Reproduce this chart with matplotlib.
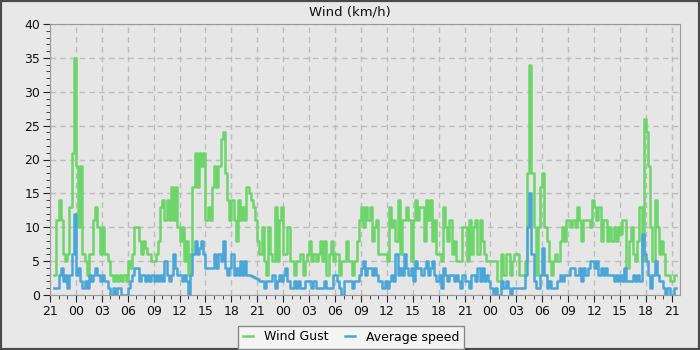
import numpy as np
import pandas as pd
import matplotlib
matplotlib.use('Agg')
import matplotlib.pyplot as plt
import matplotlib.dates as mdates
from matplotlib.patches import Rectangle

# 15 minute readings, one row = 3 hours, first row starts 21:00
gust = [
    np.nan, np.nan, 3, 11, 14, 11, 6, 5, 6, 13, 21, 35,
    19, 10, 19, 6, 5, 3, 6, 6, 11, 13, 10, 6,
    10, 6, 6, 5, 3, 2, 3, 2, 3, 2, 3, 2,
    5, 4, 6, 10, 10, 8, 6, 8, 7, 6, 6, 5,
    5, 6, 8, 13, 14, 11, 14, 11, 16, 11, 16, 10,
    8, 10, 5, 8, 3, 6, 16, 21, 16, 21, 19, 21,
    11, 13, 11, 16, 19, 16, 19, 23, 24, 18, 14, 11,
    14, 11, 8, 14, 11, 13, 11, 16, 15, 14, 13, 11,
    8, 6, 10, 5, 3, 10, 6, 5, 13, 5, 11, 13,
    6, 6, 10, 5, 5, 3, 5, 5, 6, 3, 5, 6,
    8, 5, 6, 5, 6, 8, 5, 8, 3, 6, 8, 5,
    6, 6, 3, 5, 5, 8, 5, 5, 3, 5, 8, 11,
    13, 10, 13, 11, 13, 8, 10, 11, 6, 6, 6, 6,
    5, 13, 10, 11, 8, 14, 6, 11, 11, 13, 11, 5,
    11, 14, 11, 13, 13, 8, 14, 11, 14, 8, 11, 6,
    6, 5, 13, 10, 8, 11, 6, 8, 5, 5, 5, 10,
    10, 5, 11, 6, 10, 11, 6, 11, 8, 6, 5, 5,
    5, 5, 5, 2, 2, 6, 3, 6, 6, 3, 5, 6,
    6, 3, 3, 3, 5, 18, 34, 18, 10, 3, 10, 16,
    18, 10, 8, 5, 3, 5, 6, 5, 8, 10, 8, 11,
    11, 10, 11, 10, 13, 11, 8, 11, 11, 11, 10, 14,
    13, 11, 13, 8, 11, 11, 8, 10, 8, 10, 8, 10,
    9, 11, 11, 4, 8, 10, 6, 5, 8, 13, 5, 26,
    24, 19, 10, 5, 14, 10, 6, 8, 6, 3, 3, 2,
    2, 3, 3,
]
avg = [
    np.nan, np.nan, 1, 1, 3, 4, 2, 3, 1, 3, 6, 12,
    3, 4, 2, 1, 2, 1, 3, 2, 3, 4, 3, 2,
    3, 2, 2, 1, 0, 1, 0, 1, 1, 0, 0, 0,
    1, 2, 3, 4, 4, 2, 3, 3, 2, 3, 2, 3,
    2, 3, 2, 3, 2, 5, 3, 2, 3, 6, 4, 3,
    3, 2, 3, 2, 0, 3, 6, 8, 6, 7, 8, 6,
    4, 4, 4, 4, 6, 4, 6, 5, 8, 4, 3, 4,
    6, 3, 4, 3, 5, 3, 5, 3, 2.9, 2.8, 2.6, 2.5,
    2.3, 2.1, 2, 1, 2, 2, 2, 3, 1, 2, 3, 2,
    3, 4, 2, 1, 1, 2, 1, 2, 1, 1, 2, 2,
    2, 1, 2, 1, 1, 1, 1, 2, 1, 1, 1, 3,
    3, 2, 1, 0, 2, 2, 2, 2, 1, 2, 2, 3,
    4, 5, 3, 4, 4, 3, 4, 3, 2, 2, 1, 2,
    1, 2, 3, 2, 6, 3, 4, 3, 6, 4, 3, 4,
    2, 5, 4, 4, 3, 4, 5, 3, 4, 5, 3, 2,
    3, 1, 4, 3, 2, 3, 3, 2, 3, 2, 1, 3,
    2, 2, 1, 3, 3, 2, 4, 2, 4, 2, 3, 2,
    1, 0, 1, 0, 0, 2, 1, 2, 1, 0, 1, 1,
    1, 1, 1, 1, 3, 10, 15, 6, 2, 1, 1, 3,
    7, 3, 1, 2, 1, 1, 1, 2, 3, 2, 3, 3,
    3, 4, 4, 3, 3, 4, 2, 4, 3, 4, 5, 5,
    4, 5, 3, 4, 3, 4, 3, 3, 3, 2, 3, 2,
    3, 2, 4, 2, 2, 2, 3, 2, 3, 2, 9, 6,
    5, 3, 1, 3, 5, 3, 2, 2, 1, 0, 1, 0,
    0, 1, 1,
]
zeit = pd.date_range('2024-01-01 21:00', periods=len(gust), freq='15min')

bg = '#e8e8e8'
fig = plt.figure(figsize=(7, 3.5), dpi=100, facecolor=bg)
ax = fig.add_axes([50 / 700, 1 - 295 / 350, 630 / 700, 271 / 350])
ax.set_facecolor('#e6e6e6')

ax.plot(zeit, gust, color='#6dd66a', lw=1.8, drawstyle='steps-post', label='Wind Gust')
ax.plot(zeit, avg, color='#4aa6d8', lw=1.8, drawstyle='steps-post', label='Average speed')

ax.set_ylim(0, 40)
ax.set_yticks(range(0, 41, 5))
ax.set_yticks(range(0, 41, 1), minor=True)
ax.set_xlim(pd.Timestamp('2024-01-01 21:00'), pd.Timestamp('2024-01-04 21:57'))
ax.xaxis.set_major_locator(mdates.HourLocator(byhour=range(0, 24, 3)))
ax.xaxis.set_minor_locator(mdates.HourLocator())
ax.xaxis.set_major_formatter(mdates.DateFormatter('%H'))
ax.tick_params(which='both', direction='out', color='#222222', labelsize=9, labelcolor='#111111')
ax.tick_params(which='major', length=5, pad=2)
ax.tick_params(which='minor', length=3)
ax.grid(True, which='major', color='#bdbdbd', linestyle=(0, (4, 3)), lw=1)
for s in ax.spines.values():
    s.set_color('#9a9a9a')

fig.text(0.5, 1 - 12 / 350, 'Wind (km/h)', ha='center', va='center', fontsize=9.5, color='#111111')

leg = fig.legend(loc='center', bbox_to_anchor=(351 / 700, 1 - 337 / 350), ncol=2,
                 fontsize=9, frameon=True, fancybox=False, handlelength=0.8,
                 columnspacing=1.3, borderpad=0.4, handletextpad=0.9)
leg.get_frame().set_facecolor('#f4f4f4')
leg.get_frame().set_edgecolor('#888888')
leg.get_frame().set_alpha(1)

fig.patches.append(Rectangle((0, 0), 1, 1, transform=fig.transFigure, fill=False,
                             edgecolor='#4a4a4a', lw=3))

fig.savefig('out.png', dpi=100, facecolor=bg)
